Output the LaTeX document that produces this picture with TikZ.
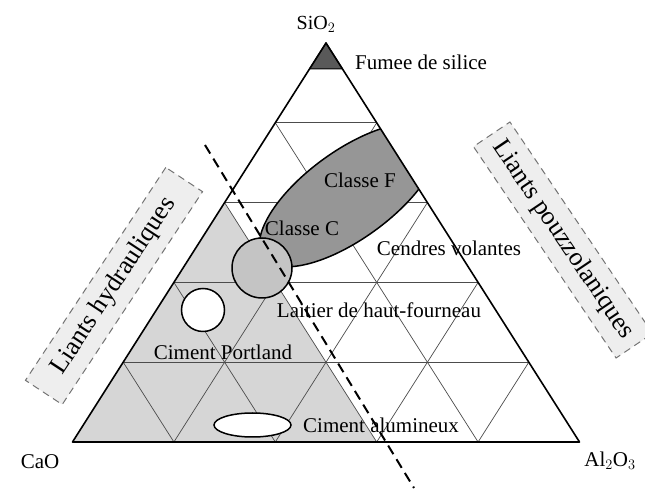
\documentclass[tikz,border=0pt]{standalone}
\usepackage{fontspec}
\setmainfont{Liberation Serif}
\usetikzlibrary{calc}
\definecolor{regiongray}{RGB}{214,214,214}
\definecolor{classfgray}{RGB}{150,150,150}
\definecolor{circlegray}{RGB}{196,196,196}
\definecolor{boxgray}{RGB}{238,238,238}
\begin{document}
\begin{tikzpicture}[x=1pt,y=1pt,
  gridline/.style={line width=0.7pt, draw=black!70},
  sideline/.style={line width=1.6pt, draw=black, line join=round},
  outline/.style={line width=1.5pt, draw=black},
  dashline/.style={line width=2pt, draw=black, dash pattern=on 10pt off 6pt},
  lab/.style={font=\fontsize{21}{24}\selectfont, inner sep=0pt},
  corner/.style={font=\fontsize{21}{24}\selectfont, inner sep=0pt},
  rotbox/.style={draw=black!55, fill=boxgray, line width=1pt, dash pattern=on 7pt off 5pt,
    minimum width=255, minimum height=44, inner sep=2pt, font=\fontsize{26}{30}\selectfont}
]
\useasboundingbox (0,0) rectangle (645,492);
\fill[white] (0,0) rectangle (645,492);
\coordinate (A) at (72.5,50);
\coordinate (B) at (579.5,50);
\coordinate (C) at (326,449);
% shaded region
\fill[regiongray] (A) -- ($(A)!0.6!(C)$) -- ($(A)!0.6!(B)$) -- cycle;
% grid
\foreach \k in {1,2,3,4} {
  \draw[gridline] ($(A)!\k/5!(C)$) -- ($(B)!\k/5!(C)$);
  \draw[gridline] ($(A)!\k/5!(C)$) -- ($(A)!\k/5!(B)$);
  \draw[gridline] ($(B)!\k/5!(C)$) -- ($(B)!\k/5!(A)$);
}
% Classe F zone
\begin{scope}
  \clip (A) -- (B) -- (C) -- cycle;
  \filldraw[outline, fill=classfgray, rotate around={36:(349,297)}] (349,297) ellipse [x radius=106, y radius=44];
\end{scope}
% fumee de silice
\filldraw[fill=black!65, draw=black, line width=1pt] (C) -- ($(C)!0.065!(A)$) -- ($(C)!0.065!(B)$) -- cycle;
% triangle sides
\draw[sideline] (A) -- (B) -- (C) -- cycle;
% zones
\filldraw[outline, fill=circlegray] (262,224) circle [radius=30];
\filldraw[outline, fill=white] (203,182) circle [radius=21.5];
\filldraw[outline, fill=white] (252.5,67) ellipse [x radius=38.5, y radius=12];
% dashed separation line
\coordinate (d1) at (205,347);
\coordinate (d2) at (414,4);
\draw[dashline] (d1) -- (d2);
% labels
\node[font=\fontsize{20}{22}\selectfont, inner sep=0pt] (sio2) at (316,468) {SiO$_2$};
\node[lab, anchor=west] (fumee) at (355,430) {Fumee de silice};
\node[lab] (classef) at (360,312) {Classe F};
\node[lab] (classec) at (302,264) {Classe C};
\node[lab] (cendres) at (449,244) {Cendres volantes};
\node[lab] (laitier) at (379,182) {Laitier de haut-fourneau};
\node[lab] (portland) at (223,140) {Ciment Portland};
\node[lab, anchor=west] (alumineux) at (303,67) {Ciment alumineux};
\node[corner] (cao) at (40,30) {CaO};
\node[corner] (al2o3) at (610,31) {Al$_2$O$_3$};
\node[rotbox, rotate=56.6] (hydr) at (114,206) {Liants hydrauliques};
\node[rotbox, rotate=-56] (pouzz) at (563,252) {Liants pouzzolaniques};
\end{tikzpicture}
\end{document}
